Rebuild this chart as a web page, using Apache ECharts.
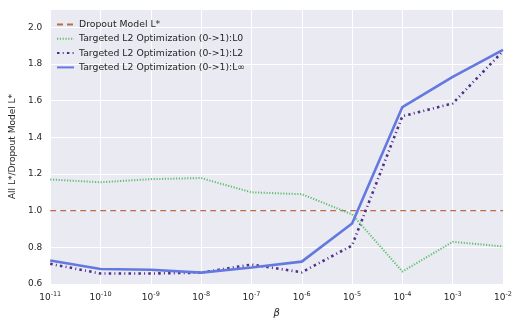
<!DOCTYPE html>
<html>
<head>
<meta charset="utf-8">
<script src="https://cdn.jsdelivr.net/npm/echarts@6/dist/echarts.min.js"></script>
<style>
  html, body { margin: 0; padding: 0; background: #fff; }
  #chart { width: 523px; height: 327px; }
</style>
</head>
<body>
<div id="chart"></div>
<script>
// beta values, 1e-11 .. 1e-2
var betas = [1e-11, 1e-10, 1e-9, 1e-8, 1e-7, 1e-6, 1e-5, 1e-4, 1e-3, 1e-2];
var dropout = [1, 1, 1, 1, 1, 1, 1, 1, 1, 1];
var l0 = [1.17, 1.155, 1.172, 1.178, 1.10, 1.09, 0.98, 0.668, 0.83, 0.805];
var l2 = [0.71, 0.657, 0.657, 0.662, 0.706, 0.664, 0.81, 1.515, 1.585, 1.87];
var linf = [0.728, 0.682, 0.678, 0.662, 0.69, 0.722, 0.93, 1.565, 1.73, 1.877];
var names = [
    'Dropout Model L*',
    'Targeted L2 Optimization (0->1):L0',
    'Targeted L2 Optimization (0->1):L2',
    'Targeted L2 Optimization (0->1):L\u221e'
];

function pairs(ys) {
    return betas.map(function (b, i) { return [b, ys[i]]; });
}

var font = 'DejaVu Sans';
var txt = '#262626';
var option = {
    animation: false,
    textStyle: { fontFamily: font },
    grid: {
        left: 45, right: 20, top: 9, bottom: 43,
        show: true, backgroundColor: '#EAEAF2', borderWidth: 0
    },
    legend: {
        left: 51, top: 15,
        orient: 'vertical',
        itemWidth: 17, itemHeight: 8, itemGap: 5.3,
        itemStyle: { opacity: 0 },
        textStyle: { fontSize: 9.3, color: txt, fontFamily: font },
        data: names
    },
    xAxis: {
        type: 'log', logBase: 10, min: 1e-11, max: 1e-2,
        name: '\u03b2', nameLocation: 'middle', nameGap: 24,
        nameTextStyle: { fontSize: 10, fontStyle: 'italic', color: txt },
        axisLine: { show: false }, axisTick: { show: false },
        splitLine: { lineStyle: { color: '#fff', width: 1 } },
        axisLabel: {
            margin: 7,
            color: txt,
            formatter: function (v) {
                var e = Math.round(Math.log10(v));
                return '{b|10}{s|' + e + '}';
            },
            rich: {
                b: { fontSize: 9, color: txt, fontFamily: font },
                s: { fontSize: 6.5, color: txt, fontFamily: font, padding: [0, 0, 6, 0] }
            }
        }
    },
    yAxis: {
        type: 'value', min: 0.6, max: 2.1, interval: 0.2,
        name: 'All L*/Dropout Model L*', nameLocation: 'middle', nameGap: 31,
        nameTextStyle: { fontSize: 9, color: txt },
        axisLine: { show: false }, axisTick: { show: false },
        splitLine: { lineStyle: { color: '#fff', width: 1 } },
        axisLabel: {
            fontSize: 9, color: txt, margin: 8, showMaxLabel: false,
            formatter: function (v) { return v.toFixed(1); }
        }
    },
    series: [
        {
            name: names[0], type: 'line', data: pairs(dropout), symbol: 'none',
            lineStyle: { color: '#BA6C4E', width: 1.3, type: [6, 4] },
            itemStyle: { color: '#BA6C4E' }
        },
        {
            name: names[1], type: 'line', data: pairs(l0), symbol: 'none',
            lineStyle: { color: '#5CC06E', width: 2, type: [1.2, 1.6] },
            itemStyle: { color: '#5CC06E' }
        },
        {
            name: names[2], type: 'line', data: pairs(l2), symbol: 'none',
            lineStyle: { color: '#4E2F8A', width: 2.6, type: [2.5, 3.2, 1, 3.2] },
            itemStyle: { color: '#4E2F8A' }
        },
        {
            name: names[3], type: 'line', data: pairs(linf), symbol: 'none',
            lineStyle: { color: '#6479DF', width: 2.6 },
            itemStyle: { color: '#6479DF' }
        }
    ]
};

var chart = echarts.init(document.getElementById('chart'));
chart.setOption(option);
</script>
</body>
</html>
